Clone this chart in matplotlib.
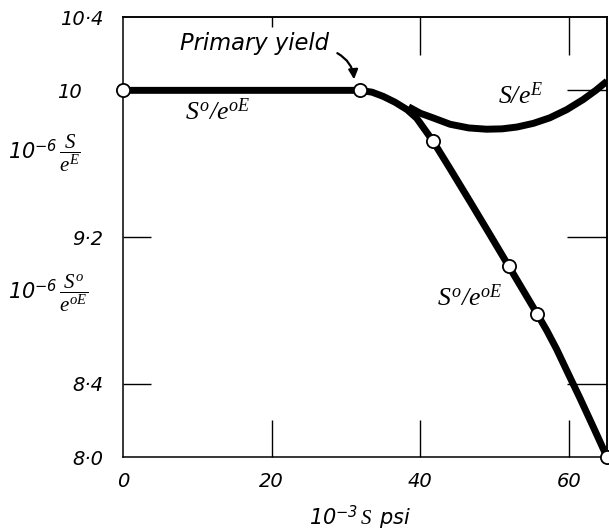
import matplotlib
matplotlib.use("Agg")
import matplotlib.pyplot as plt
from matplotlib.transforms import ScaledTranslation

# fonts: sans italic for numbers/text, serif italic for the symbols
plt.rcParams['font.family'] = ['DejaVu Sans']
plt.rcParams['font.style'] = 'italic'
plt.rcParams['mathtext.fontset'] = 'custom'
plt.rcParams['mathtext.it'] = 'Liberation Serif:italic'
plt.rcParams['mathtext.rm'] = 'Liberation Serif:italic'
plt.rcParams['mathtext.sf'] = 'DejaVu Sans:italic'

# S°/e°E curve (flat up to primary yield, then falling)
s0_x = [0, 31.9, 33.5, 35.0, 36.6, 38.2, 39.5, 41.7, 44.0, 46.7,
        49.4, 51.9, 55.7, 57.0, 58.3, 60.0, 61.5, 63.3, 65.1]
s0_y = [10.0, 10.0, 9.99, 9.967, 9.935, 9.895, 9.848, 9.723, 9.572, 9.392,
        9.21, 9.04, 8.781, 8.69, 8.59, 8.445, 8.318, 8.16, 8.0]
# measured points on that curve
pts_x = [0, 31.9, 41.7, 51.9, 55.7, 65.1]
pts_y = [10.0, 10.0, 9.723, 9.04, 8.781, 8.0]

# S/e^E curve
se_x = [38.4, 40.0, 41.7, 44.0, 46.5, 48.9, 51.0, 53.0, 55.2, 57.4, 59.7, 61.9, 63.6, 65.1]
se_y = [9.91, 9.875, 9.85, 9.815, 9.795, 9.788, 9.79, 9.80, 9.82, 9.85, 9.895, 9.95, 10.0, 10.05]

x_ticks = [0, 20, 40, 60]
x_labels = ['0', '20', '40', '60']
y_ticks = [8.0, 8.4, 9.2, 10.0, 10.4]
y_labels = ['8·0', '8·4', '9·2', '10', '10·4']

fig = plt.figure(figsize=(6.09, 5.30), dpi=100)
ax = fig.add_axes([0.202, 0.1377, 0.7947, 0.8302])

ax.plot(s0_x, s0_y, color='black', lw=5, solid_capstyle='butt', zorder=3)
ax.plot(se_x, se_y, color='black', lw=5, solid_capstyle='butt', zorder=3)
ax.plot(pts_x, pts_y, 'o', ms=9.5, mfc='white', mec='black', mew=1.3,
        clip_on=False, zorder=5)

ax.set_xlim(0, 65.1)
ax.set_ylim(8.0, 10.4)

ax.set_xticks(x_ticks)
ax.set_xticklabels(x_labels, fontsize=14)
ax.set_yticks(y_ticks)
ax.set_yticklabels(y_labels, fontsize=14)
ax.tick_params(axis='x', direction='in', length=26.6, width=1, pad=11)
ax.tick_params(axis='y', direction='in', length=20, width=1, pad=14)

# no tick marks in the corners
ax.xaxis.get_major_ticks()[0].tick1line.set_visible(False)
ax.yaxis.get_major_ticks()[0].tick1line.set_visible(False)
ax.yaxis.get_major_ticks()[4].tick1line.set_visible(False)

# "10" sits with its units digit aligned to the others
lbl10 = ax.get_yticklabels()[3]
lbl10.set_transform(lbl10.get_transform() + ScaledTranslation(-0.22, 0, fig.dpi_scale_trans))

for sp in ax.spines.values():
    sp.set_linewidth(1.1)

# inner ticks on the top and right frame
top = ax.secondary_xaxis('top')
top.set_xticks([20, 40, 60])
top.set_xticklabels([])
top.tick_params(direction='in', length=27, width=1)
top.xaxis.get_major_ticks()[0].tick2line.set_markersize(7)
top.xaxis.get_major_ticks()[0].tick1line.set_markersize(7)
top.spines['top'].set_linewidth(1.1)

right = ax.secondary_yaxis('right')
right.set_yticks([8.4, 9.2, 10.0])
right.set_yticklabels([])
right.tick_params(direction='in', length=29, width=1)
right.spines['right'].set_linewidth(1.1)

# curve labels
ax.text(8.3, 9.88, r'$S^{o}/e^{oE}$', fontsize=18.5, ha='left', va='center')
ax.text(50.4, 9.967, r'$S/e^{E}$', fontsize=18.5, ha='left', va='center')
ax.text(42.2, 8.864, r'$S^{o}/e^{oE}$', fontsize=18.5, ha='left', va='center')

ax.text(7.7, 10.255, 'Primary yield', fontsize=16.3, ha='left', va='center')
ax.annotate('', xy=(31.1, 10.045), xytext=(28.5, 10.21),
            arrowprops=dict(arrowstyle='-|>', color='black', lw=1.6,
                            mutation_scale=14,
                            connectionstyle='arc3,rad=-0.3'))

# axis titles
fig.text(0.013, 0.711, r'$\mathsf{10}^{\mathsf{-6}}\,\dfrac{S}{e^{E}}$',
         fontsize=15, ha='left', va='center')
fig.text(0.013, 0.447, r'$\mathsf{10}^{\mathsf{-6}}\,\dfrac{S^{o}}{e^{oE}}$',
         fontsize=15, ha='left', va='center')
fig.text(0.591, 0.025, r'$\mathsf{10}^{\mathsf{-3}}\,S\;\;\mathsf{psi}$',
         fontsize=15, ha='center', va='center')

fig.savefig('out.png', dpi=100)
